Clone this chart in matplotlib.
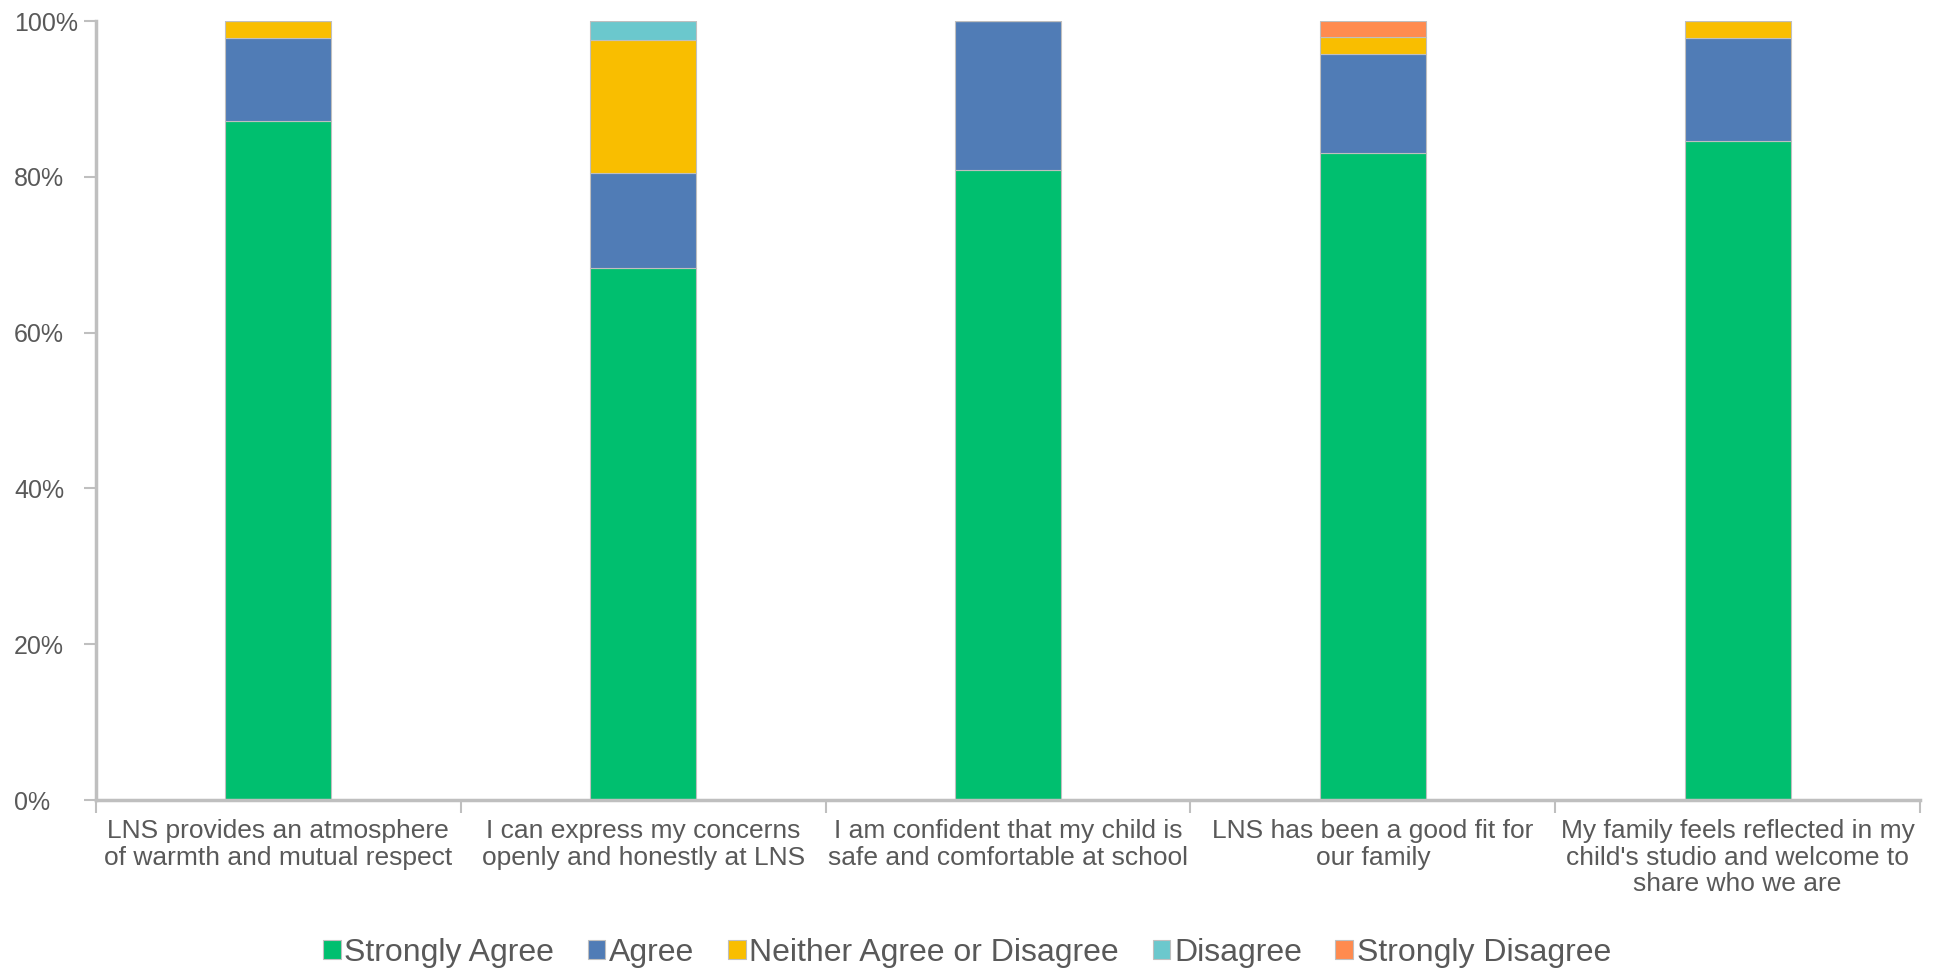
import matplotlib

matplotlib.use("Agg")
import matplotlib.pyplot as plt
from matplotlib.ticker import FixedLocator, PercentFormatter

plt.rcParams["font.family"] = ["Liberation Sans", "DejaVu Sans"]

QUESTIONS = [
    "LNS provides an atmosphere\nof warmth and mutual respect",
    "I can express my concerns\nopenly and honestly at LNS",
    "I am confident that my child is\nsafe and comfortable at school",
    "LNS has been a good fit for\nour family",
    "My family feels reflected in my\nchild's studio and welcome to\nshare who we are",
]
RESPONSES = [
    "Strongly Agree",
    "Agree",
    "Neither Agree or Disagree",
    "Disagree",
    "Strongly Disagree",
]
strongly_agree = [87.2, 68.3, 80.9, 83.0, 84.6]
agree = [10.6, 12.2, 19.1, 12.8, 13.2]
neither = [2.2, 17.1, 0.0, 2.1, 2.2]
disagree = [0.0, 2.4, 0.0, 0.0, 0.0]
strongly_disagree = [0.0, 0.0, 0.0, 2.1, 0.0]

COLORS = ["#00BF6F", "#507CB6", "#F9BE00", "#6BC8CD", "#FF8B4F"]
TEXT = "#595959"
AXIS = "#BFBFBF"

fig = plt.figure(figsize=(19.34, 9.73), dpi=100)
ax = fig.add_axes([0.0496, 0.1778, 0.9432, 0.8006])

series = [strongly_agree, agree, neither, disagree, strongly_disagree]
x = list(range(len(QUESTIONS)))
bottom = [0.0] * len(QUESTIONS)
for label, values, color in zip(RESPONSES, series, COLORS):
    ax.bar(x, values, width=0.29, bottom=bottom, color=color,
           edgecolor=AXIS, linewidth=0.8, label=label)
    bottom = [b + v for b, v in zip(bottom, values)]

ax.set_xlim(-0.5, len(QUESTIONS) - 0.5)
ax.set_ylim(0, 100)
ax.yaxis.set_major_locator(FixedLocator([0, 20, 40, 60, 80, 100]))
ax.yaxis.set_major_formatter(PercentFormatter(decimals=0))

# category labels sit between the boundary ticks
ax.set_xticks(x)
ax.set_xticklabels(QUESTIONS, fontsize=19, color=TEXT, va="top", linespacing=1.12)
ax.tick_params(axis="x", length=0, pad=14)
ax.set_xticks([i - 0.5 for i in range(len(QUESTIONS) + 1)], minor=True)
ax.tick_params(axis="x", which="minor", length=9, width=1.5, color=AXIS, direction="out")

# percent labels are left-aligned at the figure edge
ax.tick_params(axis="y", labelsize=18, labelcolor=TEXT, length=9, width=1.5,
               color=AXIS, pad=50)
for lbl in ax.get_yticklabels():
    lbl.set_horizontalalignment("left")

for side in ("top", "right"):
    ax.spines[side].set_visible(False)
for side in ("left", "bottom"):
    ax.spines[side].set_color(AXIS)
    ax.spines[side].set_linewidth(2.5)

fig.legend(loc="center", bbox_to_anchor=(0.5, 0.021), ncol=5, frameon=False,
           fontsize=23, labelcolor=TEXT, handlelength=0.55, handleheight=0.55,
           handletextpad=0.12, columnspacing=1.05)

fig.savefig("out.png", dpi=100)
